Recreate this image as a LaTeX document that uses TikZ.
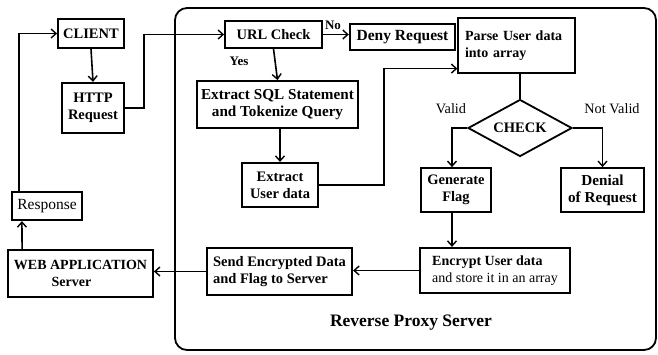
\documentclass[tikz,border=0pt]{standalone}
\usepackage{fontspec}
\setmainfont{Liberation Serif}
\usetikzlibrary{arrows.meta,shapes.geometric,calc}
\begin{document}
\begin{tikzpicture}[x=1pt,y=-1pt,
  box/.style={draw,line width=1.8pt,inner sep=1pt,align=center,font=\fontsize{14.5}{17}\selectfont\bfseries},
  thinbox/.style={draw,line width=1.2pt,inner sep=1pt,font=\fontsize{14}{17}\selectfont\bfseries},
  lbl/.style={font=\fontsize{14.3}{16}\selectfont},
  conn/.style={line width=1.6pt},
  arr/.style={conn,-{Straight Barb[length=5pt,width=9pt,line width=1.4pt]}}]
\useasboundingbox (0,0) rectangle (658,354);
% reverse proxy frame
\draw[line width=1.8pt,rounded corners=12pt] (175,8) rectangle (656,350);
\node[font=\fontsize{17.5}{19}\selectfont\bfseries] (rps) at (411,323) {Reverse Proxy Server};
% nodes
\node[box,minimum width=66pt,minimum height=29pt] (client) at (91,33.5) {CLIENT};
\node[box,line width=2.2pt,minimum width=62pt,minimum height=50pt] (http) at (93,108) {HTTP\\Request};
\node[box,minimum width=97pt,minimum height=27pt] (url) at (273.5,34.5) {URL Check};
\node[box,line width=2.4pt,minimum width=105pt,minimum height=26pt,font=\fontsize{15.5}{17}\selectfont\bfseries] (deny) at (402.5,37) {Deny Request};
\node[box,minimum width=161pt,minimum height=47pt,font=\fontsize{15.2}{17}\selectfont\bfseries] (sql) at (277.5,104.5) {Extract SQL Statement\\and Tokenize Query};
\node[box,line width=2.2pt,minimum width=76pt,minimum height=44pt] (user) at (280,185) {Extract\\User data};
\node[thinbox,minimum width=117pt,minimum height=55pt,text width=103pt,align=left,anchor=center] (parse) at (516.5,45.5) {Parse User data\\into array\\[8pt]};
\node[draw,diamond,line width=1.8pt,minimum width=104pt,minimum height=57pt,inner sep=0pt,aspect=1.8,font=\fontsize{14.5}{16}\selectfont\bfseries] (check) at (520,128) {CHECK};
\node[box,minimum width=70pt,minimum height=44pt] (gen) at (456,190) {Generate\\Flag};
\node[box,minimum width=83pt,minimum height=44pt,font=\fontsize{15.2}{17}\selectfont\bfseries] (denial) at (602.5,190) {Denial\\of Request};
\node[box,line width=2.2pt,minimum width=150pt,minimum height=45pt,align=left,font=\fontsize{14}{17}\selectfont\bfseries] (enc) at (495,270.5) {Encrypt User data\\\mdseries and store it in an array};
\node[box,line width=2.2pt,minimum width=145pt,minimum height=47pt,align=left] (send) at (279.5,271.5) {Send Encrypted Data\\and Flag to Server};
\node[box,minimum width=145pt,minimum height=47pt,font=\fontsize{14}{17}\selectfont\bfseries] (web) at (80.5,273.5) {WEB APPLICATION\\Server\hspace*{18pt}};
\node[box,line width=2.2pt,minimum width=70pt,minimum height=28pt,font=\fontsize{15.5}{16}\selectfont] (resp) at (47,206) {Response};
% labels
\node[lbl,font=\fontsize{13}{14}\selectfont\bfseries] (no) at (333,25) {No};
\node[lbl,font=\fontsize{13}{14}\selectfont\bfseries] (yes) at (239,61) {Yes};
\node[lbl] (valid) at (451,109) {Valid};
\node[lbl] (nvalid) at (612,109) {Not Valid};
% connectors
\draw[arr] (client.south) -- (http.north);
\draw[arr] (http.east) -- ++(19,0) |- (url.west);
\draw[arr] (url.east) -- (deny.west |- url.east);
\draw[arr] (url.south) -- (sql.north);
\draw[arr] (user.north |- sql.south) -- (user.north);
\draw[arr] (user.east) -- ++(65,0) |- ([yshift=5pt]parse.south west);
\draw[conn] (parse.south -| check.north) -- (check.north);
\draw[arr] (check.west) -| ([xshift=-4pt]gen.north);
\draw[arr] (check.east) -| (denial.north);
\draw[arr] ([xshift=-4pt]gen.south) -- ([xshift=-4pt]gen.south |- enc.north);
\draw[arr] (enc.west) -- (send.east |- enc.west);
\draw[arr] (send.west) -- (web.east |- send.west);
\draw[arr] ([xshift=15pt]web.north west) -- ([xshift=11pt]resp.south west);
\draw[arr] ([xshift=8pt]resp.north west) |- (client.west);
\end{tikzpicture}
\end{document}
